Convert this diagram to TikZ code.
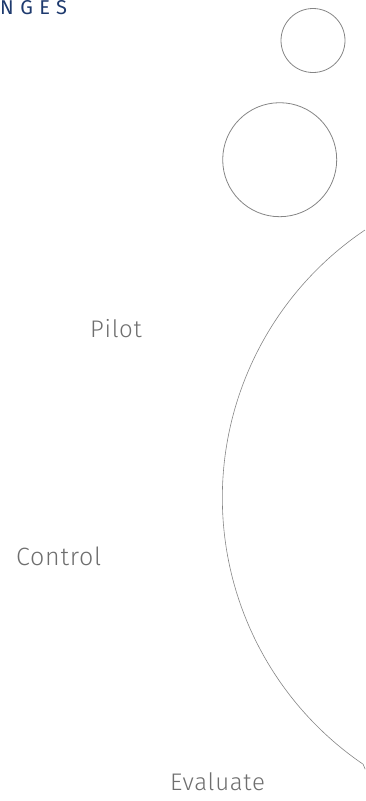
\documentclass[tikz,border=0pt]{standalone}
\usepackage{fontspec}
\setmainfont{Fira Sans Light}[LetterSpace=3]
\newfontfamily\headfont{Fira Sans}[LetterSpace=32]
\definecolor{navy}{HTML}{1E3A6E}
\definecolor{labgray}{HTML}{6E6E6E}
\definecolor{linegray}{HTML}{858585}
\begin{document}
\begin{tikzpicture}[x=1pt,y=-1pt,
  lab/.style={anchor=base west,inner sep=0pt,text=labgray,font=\fontsize{24}{28}\selectfont},
  ring/.style={circle,draw=linegray,line width=0.8pt,inner sep=0pt}]
\useasboundingbox (0,0) rectangle (365,801);
\node[anchor=base west,inner sep=0pt,text=navy,font=\headfont\fontsize{20}{24}\selectfont] (head) at (0,14) {NGES};
\node[ring,minimum size=64pt] (c1) at (313,40.5) {};
\node[ring,minimum size=114pt] (c2) at (279.7,159.7) {};
\coordinate (arcstart) at (365,230);
\draw[linegray,line width=0.6pt] (arcstart) arc[start angle=236.1,end angle=124.3,radius=322.6] coordinate (arcend) -- ++(2,5);
\node[lab] (pilot) at (90,337) {Pilot};
\node[lab,font=\fontsize{25}{28}\selectfont] (control) at (16,565) {Control};
\node[lab] (evaluate) at (170,790) {Evaluate};
\end{tikzpicture}
\end{document}
